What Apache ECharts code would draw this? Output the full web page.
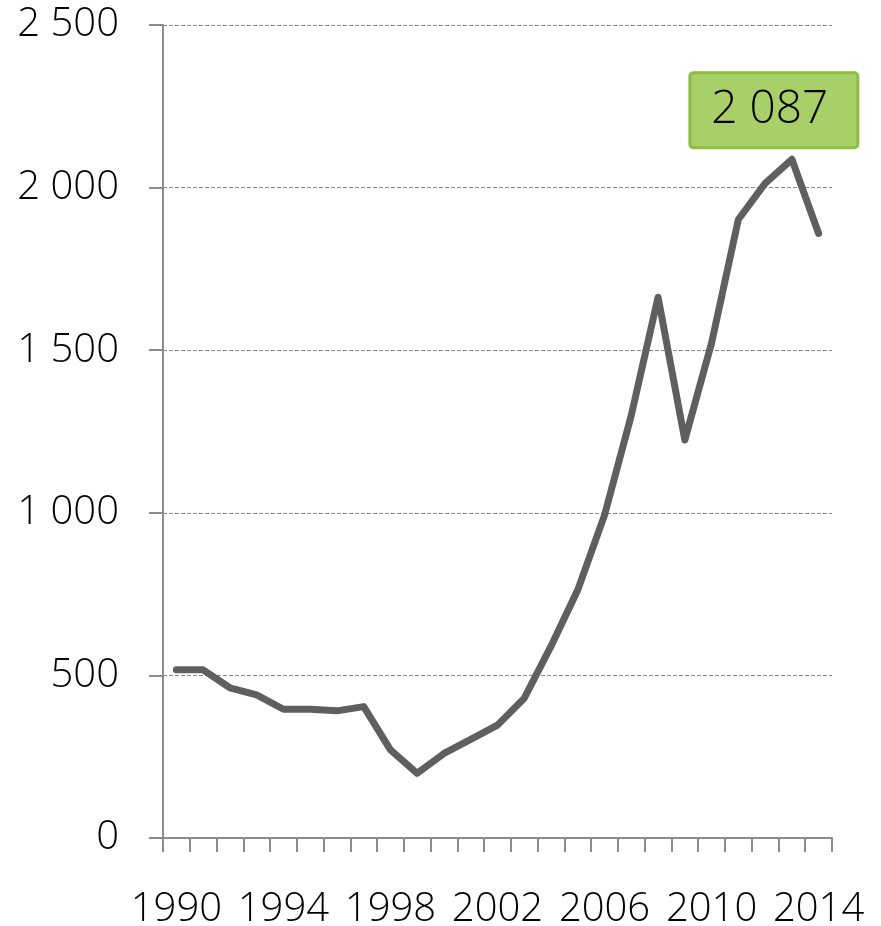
<!DOCTYPE html>
<html>
<head>
<meta charset="utf-8">
<script src="https://cdn.jsdelivr.net/npm/echarts@6/dist/echarts.min.js"></script>
<style>
  html, body { margin: 0; padding: 0; background: #fff; }
  #chart { width: 881px; height: 926px; }
</style>
</head>
<body>
<div id="chart"></div>
<script>
// years on the x axis
const years = ['1990', '1991', '1992', '1993', '1994', '1995', '1996', '1997', '1998', '1999',
  '2000', '2001', '2002', '2003', '2004', '2005', '2006', '2007', '2008', '2009',
  '2010', '2011', '2012', '2013', '2014'];
// values
const values = [517, 517, 462, 440, 396, 396, 391, 404, 271, 199,
  260, 303, 347, 430, 590, 763, 993, 1300, 1663, 1224,
  1522, 1902, 2013, 2087, 1859];
const yTicks = [0, 500, 1000, 1500, 2000, 2500];
const highlightYear = '2013';

const fontFamily = '"Open Sans", "Noto Sans", sans-serif';
const fontWeight = 300;
const fmt = (v) => String(v).replace(/\B(?=(\d{3})+(?!\d))/g, ' ');

const chart = echarts.init(document.getElementById('chart'));

// only the peak year gets the green callout
const seriesData = values.map((v, i) => {
  if (years[i] !== highlightYear) return v;
  return {
    value: v,
    label: {
      show: true,
      position: 'top',
      distance: 13,
      offset: [-18, 0],
      formatter: (p) => fmt(p.value),
      color: '#000',
      fontFamily,
      fontWeight,
      fontSize: 46,
      lineHeight: 48,
      backgroundColor: '#a9cf68',
      borderColor: '#8cbf3f',
      borderWidth: 3,
      borderRadius: 2,
      padding: [12, 28, 12, 20],
    },
  };
});

chart.setOption({
  animation: false,
  grid: {
    left: 163,
    right: 49,
    top: 25,
    bottom: 88,
    containLabel: false,
    outerBoundsMode: 'none',
  },
  xAxis: {
    type: 'category',
    data: years,
    boundaryGap: true,
    axisLine: { lineStyle: { color: '#8c8c8c', width: 2 } },
    axisTick: {
      show: true,
      interval: 0,
      length: 14,
      lineStyle: { color: '#8c8c8c', width: 2 },
    },
    axisLabel: {
      interval: 3,
      margin: 52,
      color: '#000',
      fontFamily,
      fontWeight,
      fontSize: 40,
    },
    splitLine: { show: false },
  },
  yAxis: {
    type: 'value',
    min: yTicks[0],
    max: yTicks[yTicks.length - 1],
    interval: 500,
    axisLine: { show: true, lineStyle: { color: '#8c8c8c', width: 2 } },
    axisTick: { show: true, length: 14, lineStyle: { color: '#8c8c8c', width: 2 } },
    axisLabel: {
      margin: 44,
      color: '#000',
      fontFamily,
      fontWeight,
      fontSize: 40,
      formatter: (v) => fmt(v),
    },
    splitLine: {
      show: true,
      lineStyle: { color: '#8a8a8a', width: 1, type: [4, 2] },
    },
  },
  series: [{
    type: 'line',
    data: seriesData,
    symbol: 'circle',
    symbolSize: 0,
    showSymbol: true,
    lineStyle: { color: '#5f5f5f', width: 7, cap: 'round', join: 'round' },
    itemStyle: { color: '#5f5f5f' },
    z: 3,
  }],
});
</script>
</body>
</html>
